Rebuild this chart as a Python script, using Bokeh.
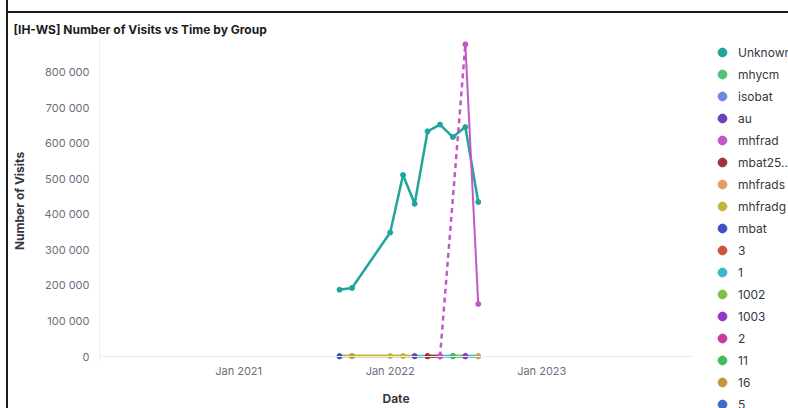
from datetime import datetime
from bokeh.plotting import figure
from bokeh.layouts import row, column
from bokeh.models import (Legend, LegendItem, FixedTicker, DatetimeTickFormatter, Range1d, Span,
                          Div, Spacer)
from bokeh.embed import file_html
from bokeh.resources import INLINE

# ---------------- data ----------------
dates = [datetime(2021, 9, 1), datetime(2021, 10, 1), datetime(2022, 1, 1), datetime(2022, 2, 1),
         datetime(2022, 3, 1), datetime(2022, 4, 1), datetime(2022, 5, 1), datetime(2022, 6, 1),
         datetime(2022, 7, 1), datetime(2022, 8, 1)]

v_unknown = [188000, 193000, 349000, 511000, 430000, 634000, 653000, 618000, 646000, 435000]
v_mhycm = [None, None, None, None, None, None, None, 500, None, None]
v_isobat = [500, None, None, None, None, None, None, None, None, None]
v_au = [None, None, None, None, 900, None, None, None, None, None]
v_mhfrad = [None, None, None, None, None, None, 0, None, 879000, 148000]
v_mbat25 = [None, None, None, None, None, 900, 1000, None, None, None]
v_mhfrads = [None, None, None, None, None, None, None, None, None, 1000]
v_mhfradg = [1500, 1200, 1400, 1300, 1000, None, None, None, None, None]
v_mbat = [800, None, None, None, None, None, None, None, None, None]
v_3 = [None, None, None, None, None, 600, None, None, None, None]
v_1 = [None, None, None, None, 700, 600, 800, 700, 600, 500]
v_1002 = [None, None, None, None, None, None, None, 900, 800, None]
v_1003 = [None, None, None, None, None, None, None, None, 1100, None]
v_2 = [None, None, None, None, None, None, 300, None, None, None]
v_11 = [None, None, None, None, None, None, None, 1000, None, None]
v_16 = [None, 1000, None, None, None, None, None, None, None, None]
v_5 = [None, None, None, None, None, None, None, None, 500, None]

legend_order = ["Unknown", "mhycm", "isobat", "au", "mhfrad", "mbat25..", "mhfrads", "mhfradg",
                "mbat", "3", "1", "1002", "1003", "2", "11", "16", "5"]
series = {
    "Unknown": v_unknown, "mhycm": v_mhycm, "isobat": v_isobat, "au": v_au, "mhfrad": v_mhfrad,
    "mbat25..": v_mbat25, "mhfrads": v_mhfrads, "mhfradg": v_mhfradg, "mbat": v_mbat, "3": v_3,
    "1": v_1, "1002": v_1002, "1003": v_1003, "2": v_2, "11": v_11, "16": v_16, "5": v_5,
}
colors = {
    "Unknown": "#1fa59b", "mhycm": "#55c07a", "isobat": "#6b8ae0", "au": "#6a3fc0",
    "mhfrad": "#c257c7", "mbat25..": "#a33232", "mhfrads": "#e39e5c", "mhfradg": "#c8b43a",
    "mbat": "#3d4fc7", "3": "#c9553b", "1": "#3bb7c9", "1002": "#7cc242", "1003": "#8e3bc9",
    "2": "#c8399f", "11": "#3dbf5e", "16": "#c3963a", "5": "#3d6fc7",
}
# drawing order (later on top)
draw_order = ["Unknown", "mhfradg", "isobat", "mbat", "16", "1", "au", "3", "mbat25..", "2",
              "mhycm", "1002", "11", "5", "1003", "mhfrads", "mhfrad"]

y_ticks = [0, 100000, 200000, 300000, 400000, 500000, 600000, 700000, 800000]
y_tick_labels = ["0", "100 000", "200 000", "300 000", "400 000", "500 000", "600 000", "700 000", "800 000"]
x_ticks = [datetime(2021, 1, 1), datetime(2022, 1, 1), datetime(2023, 1, 1)]

FONT = "Inter"

p = figure(width=703, height=395, x_axis_type="datetime", output_backend="svg",
           toolbar_location=None,
           x_range=Range1d(datetime(2020, 2, 1), datetime(2023, 12, 30)),
           y_range=Range1d(-14035, 889800),
           min_border_left=90, min_border_right=19, min_border_top=27, min_border_bottom=46,
           title="[IH-WS] Number of Visits vs Time by Group")
p.frame_align = False
p.outline_line_color = None
p.grid.visible = False
p.background_fill_color = "white"
p.border_fill_color = "white"

p.title.text_font = FONT
p.title.text_font_size = "12px"
p.title.text_font_style = "bold"
p.title.text_color = "#1a1c21"
p.title.align = "left"
p.title.offset = -86
p.title.standoff = 7

# baseline at zero
p.add_layout(Span(location=0, dimension="width", line_color="#e9ecf0", line_width=1))

# x axis
xa = p.xaxis[0]
xa.ticker = FixedTicker(ticks=[d.timestamp() * 1000 for d in x_ticks])
xa.formatter = DatetimeTickFormatter(years="%b %Y", months="%b %Y", days="%b %Y")
xa.axis_line_color = None
xa.major_tick_line_color = None
xa.minor_tick_line_color = None
xa.major_tick_out = 0
xa.major_tick_in = 0
xa.minor_tick_out = 0
xa.minor_tick_in = 0
xa.major_label_standoff = 2
xa.major_label_text_font = FONT
xa.major_label_text_font_size = "11px"
xa.major_label_text_color = "#69707d"
xa.axis_label = "Date"
xa.axis_label_text_font = FONT
xa.axis_label_text_font_size = "12px"
xa.axis_label_text_font_style = "bold"
xa.axis_label_text_color = "#343741"
xa.axis_label_standoff = 10

# y axis
ya = p.yaxis[0]
ya.ticker = FixedTicker(ticks=y_ticks)
ya.major_label_overrides = {t: lab for t, lab in zip(y_ticks, y_tick_labels)}
ya.axis_line_color = "#eef0f3"
ya.major_tick_line_color = None
ya.minor_tick_line_color = None
ya.major_tick_out = 0
ya.major_tick_in = 0
ya.minor_tick_out = 0
ya.minor_tick_in = 0
ya.major_label_standoff = 10
ya.major_label_text_font = FONT
ya.major_label_text_font_size = "11px"
ya.major_label_text_color = "#69707d"
ya.axis_label = "Number of Visits"
ya.axis_label_text_font = FONT
ya.axis_label_text_font_size = "12px"
ya.axis_label_text_font_style = "bold"
ya.axis_label_text_color = "#343741"
ya.axis_label_standoff = 15

for name in draw_order:
    vals = series[name]
    col = colors[name]
    lw = 2.5 if name == "Unknown" else (2 if name == "mhfrad" else 3)
    idx = [i for i, v in enumerate(vals) if v is not None]
    solid_xs, solid_ys, dash_xs, dash_ys = [], [], [], []
    for a, b in zip(idx[:-1], idx[1:]):
        seg_x = [dates[a], dates[b]]
        seg_y = [vals[a], vals[b]]
        if b == a + 1:
            solid_xs.append(seg_x); solid_ys.append(seg_y)
        else:
            dash_xs.append(seg_x); dash_ys.append(seg_y)
    if solid_xs:
        p.multi_line(solid_xs, solid_ys, line_color=col, line_width=lw)
    if dash_xs:
        p.multi_line(dash_xs, dash_ys, line_color=col, line_width=2.5, line_dash="5 4")
    p.scatter([dates[i] for i in idx], [vals[i] for i in idx],
              size=5, marker="circle", fill_color=col, line_color=col)

# ---- legend panel (separate canvas to the right of the plot area) ----
pl = figure(width=77, height=395, output_backend="svg", toolbar_location=None,
            x_range=Range1d(0, 1), y_range=Range1d(0, 1),
            x_axis_location=None, y_axis_location=None,
            min_border_left=0, min_border_right=0, min_border_top=0, min_border_bottom=0)
pl.frame_align = False
pl.outline_line_color = None
pl.grid.visible = False
pl.border_fill_color = "white"
items = []
for name in legend_order:
    # swatch renderer sits outside the (hidden) data window; only its legend dot shows
    r = pl.scatter([5], [5], size=5, marker="circle", fill_color=colors[name], line_color=colors[name])
    items.append(LegendItem(label=name, renderers=[r]))
legend = Legend(items=items, location=(0, -7), orientation="vertical",
                glyph_width=22, glyph_height=22, label_height=22, spacing=0, padding=0, margin=0,
                label_standoff=5, label_text_font=FONT, label_text_font_size="12px",
                label_text_color="#343741", border_line_color=None, background_fill_alpha=0)
pl.add_layout(legend)

# panel frame lines (top and left)
left_bar = Div(text="", width=2, height=408, margin=0, styles={"background-color": "#1a1a1a"})
top_bar = Div(text="", width=780, height=2, margin=0, styles={"background-color": "#1a1a1a"})
layout = row(Spacer(width=6, height=408), left_bar,
             column(Spacer(width=780, height=11), top_bar, row(p, pl, spacing=0), spacing=0),
             spacing=0)

open("out.html", "w").write(file_html(layout, INLINE))
